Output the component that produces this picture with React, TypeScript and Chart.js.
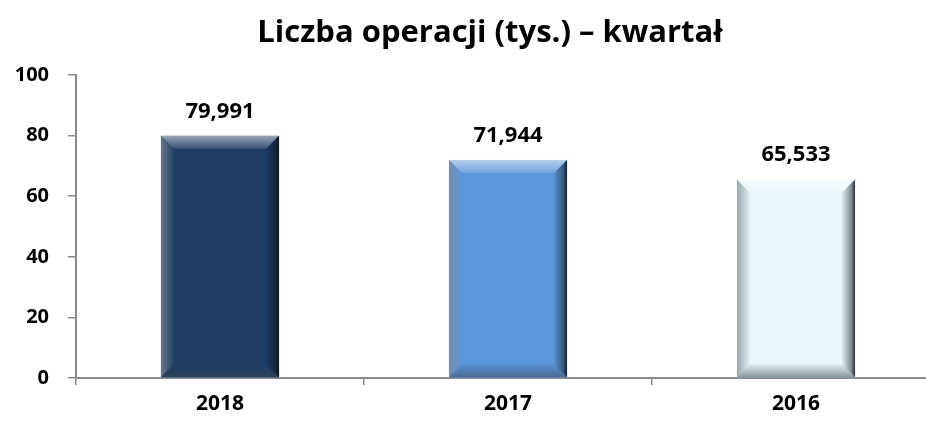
import React, { useEffect, useRef } from "react";
import { Chart, registerables } from "chart.js";

Chart.register(...registerables);

const categories = ["2018", "2017", "2016"];
const values = [79.991, 71.944, 65.533];
const barColors = ["#1E3C64", "#5B97DC", "#E6F8FC"];
const yTicks = [0, 20, 40, 60, 80, 100];
const titleText = "Liczba operacji (tys.) \u2013 kwartał";

const FONT = "'Open Sans', 'DejaVu Sans', sans-serif";

const bevelPlugin = {
  id: "bevel",
  afterDatasetsDraw(chart: any) {
    const ctx = chart.ctx;
    const meta = chart.getDatasetMeta(0);
    meta.data.forEach((bar: any) => {
      const p = bar.getProps(["x", "y", "base", "width"], true);
      const l = p.x - p.width / 2;
      const r = p.x + p.width / 2;
      const t = Math.min(p.y, p.base);
      const b = Math.max(p.y, p.base);
      const bv = 13;
      ctx.save();
      // top
      let g = ctx.createLinearGradient(0, t, 0, t + bv);
      g.addColorStop(0, "rgba(255,255,255,0.55)");
      g.addColorStop(1, "rgba(255,255,255,0.12)");
      ctx.fillStyle = g;
      ctx.beginPath();
      ctx.moveTo(l, t);
      ctx.lineTo(r, t);
      ctx.lineTo(r - bv, t + bv);
      ctx.lineTo(l + bv, t + bv);
      ctx.closePath();
      ctx.fill();
      // left
      g = ctx.createLinearGradient(l, 0, l + bv, 0);
      g.addColorStop(0, "rgba(128,140,150,0.75)");
      g.addColorStop(1, "rgba(128,140,150,0.05)");
      ctx.fillStyle = g;
      ctx.beginPath();
      ctx.moveTo(l, t);
      ctx.lineTo(l + bv, t + bv);
      ctx.lineTo(l + bv, b - bv);
      ctx.lineTo(l, b);
      ctx.closePath();
      ctx.fill();
      // bottom
      g = ctx.createLinearGradient(0, b, 0, b - bv);
      g.addColorStop(0, "rgba(60,70,80,0.55)");
      g.addColorStop(1, "rgba(60,70,80,0.05)");
      ctx.fillStyle = g;
      ctx.beginPath();
      ctx.moveTo(l, b);
      ctx.lineTo(r, b);
      ctx.lineTo(r - bv, b - bv);
      ctx.lineTo(l + bv, b - bv);
      ctx.closePath();
      ctx.fill();
      // right
      g = ctx.createLinearGradient(r, 0, r - bv, 0);
      g.addColorStop(0, "rgba(10,15,20,0.85)");
      g.addColorStop(0.3, "rgba(10,15,20,0.45)");
      g.addColorStop(1, "rgba(10,15,20,0.05)");
      ctx.fillStyle = g;
      ctx.beginPath();
      ctx.moveTo(r, t);
      ctx.lineTo(r, b);
      ctx.lineTo(r - bv, b - bv);
      ctx.lineTo(r - bv, t + bv);
      ctx.closePath();
      ctx.fill();
      ctx.restore();
    });
  },
};

const labelPlugin = {
  id: "valueLabels",
  afterDatasetsDraw(chart: any) {
    const ctx = chart.ctx;
    const meta = chart.getDatasetMeta(0);
    ctx.save();
    ctx.font = `bold 22px ${FONT}`;
    ctx.fillStyle = "#000";
    ctx.textAlign = "center";
    ctx.textBaseline = "alphabetic";
    meta.data.forEach((bar: any, i: number) => {
      const txt = values[i].toFixed(3).replace(".", ",");
      ctx.fillText(txt, bar.x, bar.y - 18);
    });
    ctx.restore();
  },
};

const titlePlugin = {
  id: "customTitle",
  afterDraw(chart: any) {
    const ctx = chart.ctx;
    ctx.save();
    ctx.font = `bold 31px ${FONT}`;
    ctx.fillStyle = "#000";
    ctx.textAlign = "center";
    ctx.textBaseline = "middle";
    ctx.fillText(titleText, chart.width / 2, 33);
    ctx.restore();
  },
};

export default function App() {
  const ref = useRef<HTMLCanvasElement | null>(null);
  useEffect(() => {
    if (!ref.current) return;
    const chart = new Chart(ref.current, {
      type: "bar",
      data: {
        labels: categories,
        datasets: [
          {
            data: values,
            backgroundColor: barColors,
            borderWidth: 0,
            categoryPercentage: 1,
            barPercentage: 0.41,
          },
        ],
      },
      options: {
        animation: false,
        responsive: false,
        devicePixelRatio: 1,
        layout: { padding: { left: 0, right: 40, top: 75, bottom: 0 } },
        plugins: {
          legend: { display: false },
          tooltip: { enabled: false },
          title: { display: false },
        },
        scales: {
          x: {
            grid: {
              display: true,
              drawOnChartArea: false,
              drawTicks: true,
              tickLength: 7,
              color: "#8a8a8a",
              lineWidth: 1.5,
            },
            border: { display: true, color: "#8a8a8a", width: 2 },
            ticks: {
              color: "#000",
              font: { family: FONT, size: 21, weight: "bold" },
              padding: 6,
            },
            afterFit: (s: any) => {
              s.height = 44;
            },
          },
          y: {
            min: 0,
            max: 100,
            afterBuildTicks: (s: any) => {
              s.ticks = yTicks.map((v) => ({ value: v }));
            },
            grid: {
              display: true,
              drawOnChartArea: false,
              drawTicks: true,
              tickLength: 8,
              color: "#8a8a8a",
              lineWidth: 1.5,
            },
            border: { display: true, color: "#8a8a8a", width: 2 },
            ticks: {
              color: "#000",
              font: { family: FONT, size: 20, weight: "bold" },
              padding: 19,
            },
            afterFit: (s: any) => {
              s.width = 76;
            },
          },
        },
      },
      plugins: [bevelPlugin, labelPlugin, titlePlugin],
    });
    return () => chart.destroy();
  }, []);
  return (
    <div
      style={{
        position: "fixed",
        left: 0,
        top: 0,
        width: 926,
        height: 422,
        overflow: "hidden",
        background: "#fff",
      }}
    >
      <canvas ref={ref} width={980} height={422} style={{ width: 980, height: 422 }} />
    </div>
  );
}
